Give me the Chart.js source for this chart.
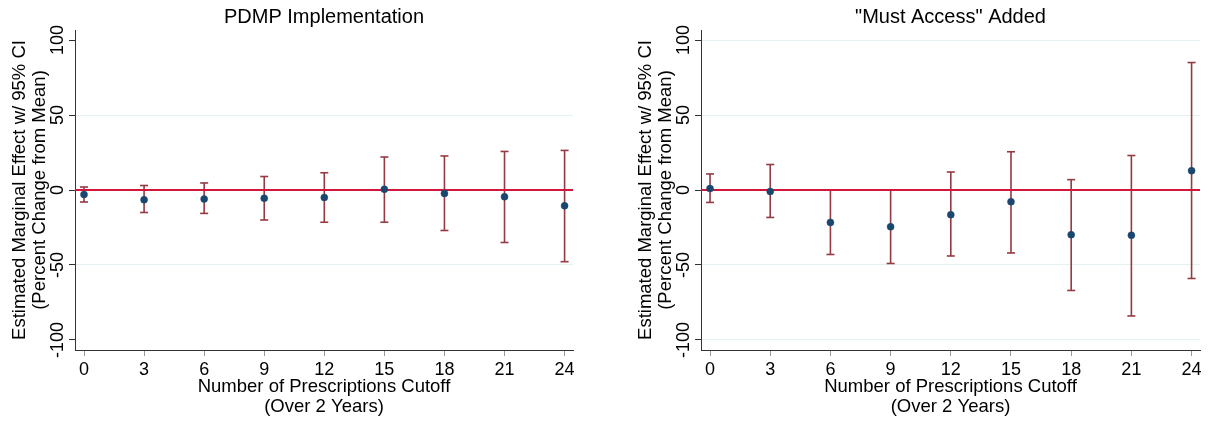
<!DOCTYPE html>
<html>
<head>
<meta charset="utf-8">
<script src="https://cdn.jsdelivr.net/npm/chart.js@4.4.1/dist/chart.umd.min.js"></script>
<style>
  body { margin: 0; background: #fff; }
  #wrap { position: relative; width: 1209px; height: 424px; }
  canvas { position: absolute; top: 0; }
</style>
</head>
<body>
<div id="wrap">
  <canvas id="pdmpChart" width="605" height="424" style="left:0"></canvas>
  <canvas id="mustChart" width="604" height="424" style="left:605px"></canvas>
</div>
<script>
// shared axes
var cutoffs = [0, 3, 6, 9, 12, 15, 18, 21, 24];
var xTicks = [0, 3, 6, 9, 12, 15, 18, 21, 24];
var yTicks = [-100, -50, 0, 50, 100];

// PDMP Implementation
var pdmpEst = [-3, -6.5, -6, -5.5, -5, 0.5, -2.3, -4.5, -10.5];
var pdmpLow = [-8, -15, -15.6, -20, -21.5, -21.5, -27, -35, -47.8];
var pdmpHigh = [2, 3, 4.7, 9, 11.5, 22, 22.7, 25.7, 26.4];
var pdmpGrid = [-50, 50];

// "Must Access" Added
var mustEst = [1, -1, -21.6, -24.5, -16.5, -7.8, -29.8, -30.2, 12.9];
var mustLow = [-8.3, -18.3, -43, -49, -44, -42, -67, -84, -59];
var mustHigh = [10.7, 17, 0, 0, 12, 25.5, 6.9, 23, 85];
var mustGrid = [-100, -50, 50, 100];

var X_MIN = -0.45, X_MAX = 24.42;
var Y_MIN = -106.7, Y_MAX = 106.7;

var FONT = '"Liberation Sans", Arial, sans-serif';
Chart.defaults.font.family = FONT;
Chart.defaults.color = '#000';

var navy = '#1a476f';
var maroon = '#943a42';
var red = '#d2163c';

// title above the plot and rotated y tick labels
var panelText = {
    id: 'panelText',
    afterDraw: function (chart, args, opts) {
        var ctx = chart.ctx;
        var area = chart.chartArea;
        var yScale = chart.scales.y;
        ctx.save();
        ctx.fillStyle = '#000';
        ctx.font = '20px ' + FONT;
        ctx.textAlign = 'center';
        ctx.textBaseline = 'alphabetic';
        ctx.fillText(opts.title, (area.left + area.right) / 2, 23);
        ctx.font = '18px ' + FONT;
        ctx.textBaseline = 'middle';
        yTicks.forEach(function (v) {
            ctx.save();
            ctx.translate(area.left - 17, yScale.getPixelForValue(v));
            ctx.rotate(-Math.PI / 2);
            ctx.fillText(String(v), 0, 0);
            ctx.restore();
        });
        ctx.restore();
    }
};

function errorBars(low, high) {
    var pts = [];
    cutoffs.forEach(function (c, i) {
        pts.push({ x: c, y: low[i] }, { x: c, y: high[i] }, { x: c, y: null });
    });
    return pts;
}

function makePanel(canvasId, title, est, low, high, gridVals, yAxisWidth, yTitlePad, rightPad) {
    var ctx = document.getElementById(canvasId).getContext('2d');
    return new Chart(ctx, {
        type: 'scatter',
        data: {
            datasets: [{
                // point estimates
                data: cutoffs.map(function (c, i) { return { x: c, y: est[i] }; }),
                pointRadius: 3.5,
                pointBackgroundColor: navy,
                pointBorderColor: navy,
                pointBorderWidth: 0.5
            }, {
                // zero reference line
                data: [{ x: X_MIN, y: 0 }, { x: X_MAX, y: 0 }],
                showLine: true,
                borderColor: red,
                borderWidth: 2,
                pointRadius: 0
            }, {
                // 95% CI
                data: errorBars(low, high),
                showLine: true,
                spanGaps: false,
                borderColor: maroon,
                borderWidth: 1.6,
                pointStyle: 'line',
                pointRadius: 4,
                pointBorderColor: maroon,
                pointBorderWidth: 1.6
            }]
        },
        options: {
            responsive: false,
            animation: false,
            events: [],
            layout: { padding: { left: 0, right: rightPad, top: 30, bottom: 0 } },
            plugins: {
                legend: { display: false },
                tooltip: { enabled: false },
                panelText: { title: title }
            },
            scales: {
                x: {
                    type: 'linear',
                    min: X_MIN,
                    max: X_MAX,
                    afterBuildTicks: function (s) { s.ticks = xTicks.map(function (v) { return { value: v }; }); },
                    afterFit: function (s) { s.height = 74; },
                    grid: { drawOnChartArea: false, drawTicks: true, tickLength: 6, tickColor: '#999', tickWidth: 1 },
                    border: { display: true, color: '#333', width: 1 },
                    ticks: { font: { size: 18 }, padding: 3, color: '#000', maxRotation: 0 },
                    title: {
                        display: true,
                        text: ['Number of Prescriptions Cutoff', '(Over 2 Years)'],
                        font: { size: 18.5, lineHeight: '20px' },
                        padding: { top: 0, bottom: 7 },
                        color: '#000'
                    }
                },
                y: {
                    type: 'linear',
                    min: Y_MIN,
                    max: Y_MAX,
                    afterBuildTicks: function (s) { s.ticks = yTicks.map(function (v) { return { value: v }; }); },
                    afterFit: function (s) { s.width = yAxisWidth; },
                    grid: {
                        color: function (c) {
                            return c.tick && gridVals.indexOf(c.tick.value) >= 0 ? '#e6eff1' : 'rgba(0,0,0,0)';
                        },
                        tickColor: '#333',
                        tickLength: 6,
                        lineWidth: 1
                    },
                    border: { display: true, color: '#333', width: 1 },
                    ticks: { display: false },
                    title: {
                        display: true,
                        text: ['Estimated Marginal Effect w/ 95% CI', '(Percent Change from Mean)'],
                        font: { size: 18.5, lineHeight: '20px' },
                        padding: { top: yTitlePad, bottom: 0 },
                        color: '#000'
                    }
                }
            }
        },
        plugins: [panelText]
    });
}

makePanel('pdmpChart', 'PDMP Implementation', pdmpEst, pdmpLow, pdmpHigh, pdmpGrid, 75, 10, 32);
makePanel('mustChart', '"Must Access" Added', mustEst, mustLow, mustHigh, mustGrid, 96, 31, 9);
</script>
</body>
</html>
